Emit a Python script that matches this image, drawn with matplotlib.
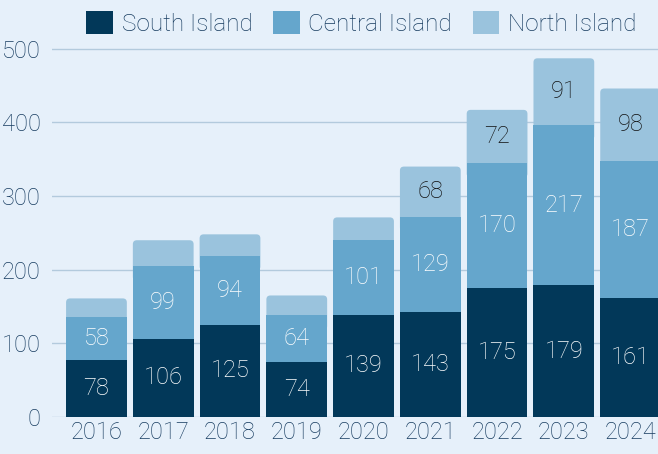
import numpy as np
import matplotlib.pyplot as plt
from matplotlib.patches import FancyBboxPatch

years = ['2016', '2017', '2018', '2019', '2020', '2021', '2022', '2023', '2024']
south = [78, 106, 125, 74, 139, 143, 175, 179, 161]
central = [58, 99, 94, 64, 101, 129, 170, 217, 187]
north = [25, 35, 29, 27, 31, 68, 72, 91, 98]
series_names = ['South Island', 'Central Island', 'North Island']

bg = '#E6F0FA'
colors = ['#023859', '#65A6CC', '#9AC3DD']
text_col = '#173C60'

plt.rcParams['font.family'] = ['Roboto', 'DejaVu Sans']
plt.rcParams['font.weight'] = 'light'

fig = plt.figure(figsize=(6.58, 4.54), dpi=100, facecolor=bg)
ax = fig.add_axes([0.079, 0.0815, 0.921, 0.8436], facecolor=bg)

x = np.arange(len(years))
w = 0.91
s = np.array(south)
c = np.array(central)
n = np.array(north)

# rounded top segment, drawn under the lower segments
for xi, b, v in zip(x, s + c, n):
    p = FancyBboxPatch((xi - w / 2, b - 20), w, v + 20,
                       boxstyle='round,pad=0,rounding_size=0.06',
                       mutation_aspect=90, fc=colors[2], ec='none', zorder=2)
    ax.add_patch(p)
ax.bar(x, s, w, color=colors[0], zorder=3)
ax.bar(x, c, w, bottom=s, color=colors[1], zorder=3)

bottom = np.zeros(len(years))
for vals, col in zip([s, c, n], colors):
    for xi, b, v in zip(x, bottom, vals):
        if v >= 50:
            tc = '#111111' if col == colors[2] else 'white'
            ax.text(xi, b + v / 2, str(v), ha='center', va='center',
                    fontsize=17, color=tc, zorder=4)
    bottom += vals

ax.set_xlim(-0.666, 8.41)
ax.set_ylim(0, 520)
ax.set_yticks([0, 100, 200, 300, 400, 500])
ax.set_xticks(x)
ax.set_xticklabels(years)
ax.yaxis.grid(True, color='#B3CADD', linewidth=1, zorder=0)
for sp in ax.spines.values():
    sp.set_visible(False)
ax.tick_params(length=0, labelsize=17, colors=text_col)
ax.tick_params(axis='y', pad=8)
ax.tick_params(axis='x', pad=3)

handles = [plt.Rectangle((0, 0), 1, 1, fc=col, ec='none') for col in colors]
fig.legend(handles, series_names, loc='upper center', bbox_to_anchor=(0.549, 1.024),
           ncol=3, frameon=False, fontsize=17.5, handlelength=1.1, handleheight=1.1,
           columnspacing=0.85, handletextpad=0.35, labelcolor=text_col)

plt.savefig('out.png', dpi=100, facecolor=bg)
